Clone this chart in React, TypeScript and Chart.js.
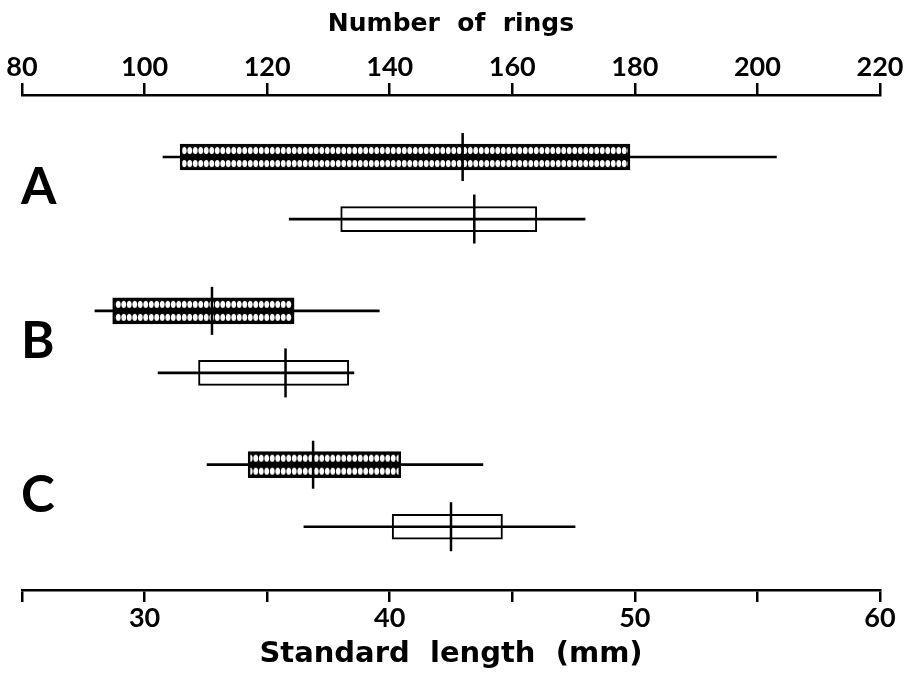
import React, { useEffect, useRef } from 'react';
import { Chart, registerables } from 'chart.js';

Chart.register(...registerables);

// ---- data ----
const groups = ['A', 'B', 'C'];

// Number of rings (top axis, shaded boxes)
const ringsMin = [103.0, 91.9, 110.2];
const ringsBoxLow = [105.8, 94.8, 116.9];
const ringsMean = [151.9, 111.0, 127.5];
const ringsBoxHigh = [179.2, 124.4, 141.8];
const ringsMax = [203.1, 138.3, 155.2];

// Standard length, mm (bottom axis, open boxes)
const lengthMin = [35.9, 30.55, 36.5];
const lengthBoxLow = [38.0, 32.2, 40.1];
const lengthMean = [43.45, 35.75, 42.5];
const lengthBoxHigh = [46.0, 38.33, 44.6];
const lengthMax = [47.97, 38.54, 47.56];

const ringTickLabels = [80, 100, 120, 140, 160, 180, 200, 220];
const lengthTickLabels = [30, 40, 50, 60];

// ---- layout helpers ----
const GROUP_STEP = 2.48;
const rowPos = (g: number, s: number) => 1 + g * GROUP_STEP + s;
const TICK_FONT = 'Lato';
const TITLE_FONT = '"DejaVu Sans"';

function makePattern(ctx: CanvasRenderingContext2D, top: number) {
  const tile = document.createElement('canvas');
  tile.width = 11;
  tile.height = 13;
  const t = tile.getContext('2d')!;
  t.fillStyle = '#000';
  t.fillRect(0, 0, 11, 13);
  t.fillStyle = '#fff';
  for (const cx of [2.75, 8.25]) {
    t.beginPath();
    t.ellipse(cx, 6.5, 2.4, 3.6, 0, 0, Math.PI * 2);
    t.fill();
  }
  const p = ctx.createPattern(tile, 'repeat')!;
  p.setTransform(new DOMMatrix().translate(0, top));
  return p;
}

const letterPlugin = {
  id: 'groupLetters',
  afterDatasetsDraw(chart: any) {
    const { ctx, scales, chartArea } = chart;
    const y = scales.y;
    ctx.save();
    ctx.fillStyle = '#000';
    ctx.font = `bold 51px ${TICK_FONT}`;
    ctx.textAlign = 'left';
    ctx.textBaseline = 'middle';
    groups.forEach((g, i) => {
      const py = y.getPixelForValue(rowPos(i, 0.5));
      ctx.fillText(g, chartArea.left - 1, py);
    });
    ctx.restore();
  },
};

export default function App() {
  const ref = useRef<HTMLCanvasElement>(null);

  useEffect(() => {
    const canvas = ref.current!;
    const patternBg = (c: any) => {
      const chart = c.chart;
      if (c.type !== 'data' || !chart.chartArea || !c.raw) return '#666';
      const yPix = chart.scales.y.getPixelForValue(c.raw.y);
      return makePattern(chart.ctx, yPix - 13);
    };

    const chart = new Chart(canvas, {
      type: 'bar',
      data: {
        datasets: [
          {
            type: 'bar',
            label: 'rings range',
            indexAxis: 'y',
            xAxisID: 'xR',
            yAxisID: 'y',
            data: groups.map((_, i) => ({ y: rowPos(i, 0), x: [ringsMin[i], ringsMax[i]] })),
            backgroundColor: '#000',
            borderWidth: 0,
            barThickness: 2,
            grouped: false,
            order: 1,
          },
          {
            type: 'bar',
            label: 'rings box',
            indexAxis: 'y',
            xAxisID: 'xR',
            yAxisID: 'y',
            data: groups.map((_, i) => ({ y: rowPos(i, 0), x: [ringsBoxLow[i], ringsBoxHigh[i]] })),
            backgroundColor: patternBg,
            borderColor: '#000',
            borderWidth: 2.5,
            borderSkipped: false,
            barThickness: 26,
            grouped: false,
            order: 2,
          },
          {
            type: 'bar',
            label: 'length range',
            indexAxis: 'y',
            xAxisID: 'xL',
            yAxisID: 'y',
            data: groups.map((_, i) => ({ y: rowPos(i, 1), x: [lengthMin[i], lengthMax[i]] })),
            backgroundColor: '#000',
            borderWidth: 0,
            barThickness: 2,
            grouped: false,
            order: 1,
          },
          {
            type: 'bar',
            label: 'length box',
            indexAxis: 'y',
            xAxisID: 'xL',
            yAxisID: 'y',
            data: groups.map((_, i) => ({ y: rowPos(i, 1), x: [lengthBoxLow[i], lengthBoxHigh[i]] })),
            backgroundColor: '#fff',
            borderColor: '#000',
            borderWidth: 2,
            borderSkipped: false,
            barThickness: 25,
            grouped: false,
            order: 2,
          },
          {
            type: 'scatter',
            label: 'rings mean',
            xAxisID: 'xR',
            yAxisID: 'y',
            data: groups.map((_, i) => ({ x: ringsMean[i], y: rowPos(i, 0) })),
            pointStyle: 'line',
            rotation: 90,
            pointRadius: 24,
            borderColor: '#000',
            borderWidth: 2.5,
            order: 0,
          },
          {
            type: 'scatter',
            label: 'length mean',
            xAxisID: 'xL',
            yAxisID: 'y',
            data: groups.map((_, i) => ({ x: lengthMean[i], y: rowPos(i, 1) })),
            pointStyle: 'line',
            rotation: 90,
            pointRadius: 24.5,
            borderColor: '#000',
            borderWidth: 2.5,
            order: 0,
          },
        ] as any,
      },
      options: {
        responsive: false,
        animation: false,
        events: [],
        layout: { autoPadding: false, padding: { left: 22, right: 26, top: 0, bottom: 0 } },
        plugins: {
          legend: { display: false },
          tooltip: { enabled: false },
        },
        scales: {
          xR: {
            type: 'linear',
            axis: 'x',
            position: 'top',
            offset: false,
            beginAtZero: false,
            min: ringTickLabels[0],
            max: ringTickLabels[ringTickLabels.length - 1],
            ticks: {
              stepSize: 20,
              autoSkip: false,
              maxRotation: 0,
              padding: 0,
              color: '#000',
              font: { family: TICK_FONT, size: 27, weight: 'bold' },
              callback: (v: any) => (ringTickLabels.includes(Number(v)) ? String(v) : ''),
            },
            grid: { offset: false, drawOnChartArea: false, drawTicks: true, tickLength: 12, color: '#000', lineWidth: 2.5 },
            border: { display: true, color: '#000', width: 2.5 },
            title: {
              display: true,
              text: 'Number  of  rings',
              color: '#000',
              font: { family: TITLE_FONT, size: 25, weight: 'bold' },
              padding: { top: 9, bottom: 0 },
            },
            afterFit: (s: any) => {
              s.height = 95;
            },
          },
          xL: {
            type: 'linear',
            axis: 'x',
            position: 'bottom',
            offset: false,
            beginAtZero: false,
            min: 25,
            max: 60,
            ticks: {
              stepSize: 5,
              autoSkip: false,
              maxRotation: 0,
              padding: 0,
              color: '#000',
              font: { family: TICK_FONT, size: 27, weight: 'bold' },
              callback: (v: any) => (lengthTickLabels.includes(Number(v)) ? String(v) : ''),
            },
            grid: { offset: false, drawOnChartArea: false, drawTicks: true, tickLength: 12, color: '#000', lineWidth: 2.5 },
            border: { display: true, color: '#000', width: 2.5 },
            title: {
              display: true,
              text: 'Standard  length  (mm)',
              color: '#000',
              font: { family: TITLE_FONT, size: 29, weight: 'bold' },
              padding: { top: 0, bottom: 6 },
            },
            afterFit: (s: any) => {
              s.height = 88;
            },
          },
          y: {
            type: 'linear',
            axis: 'y',
            reverse: true,
            offset: false,
            beginAtZero: false,
            min: 0,
            max: 7.98,
            display: false,
            grid: { offset: false },
          },
        } as any,
      },
      plugins: [letterPlugin],
    });
    return () => chart.destroy();
  }, []);

  return (
    <div style={{ position: 'fixed', left: 0, top: 0, width: 906, height: 678, background: '#fff' }}>
      <canvas ref={ref} width={906} height={678} style={{ display: 'block' }} />
    </div>
  );
}
